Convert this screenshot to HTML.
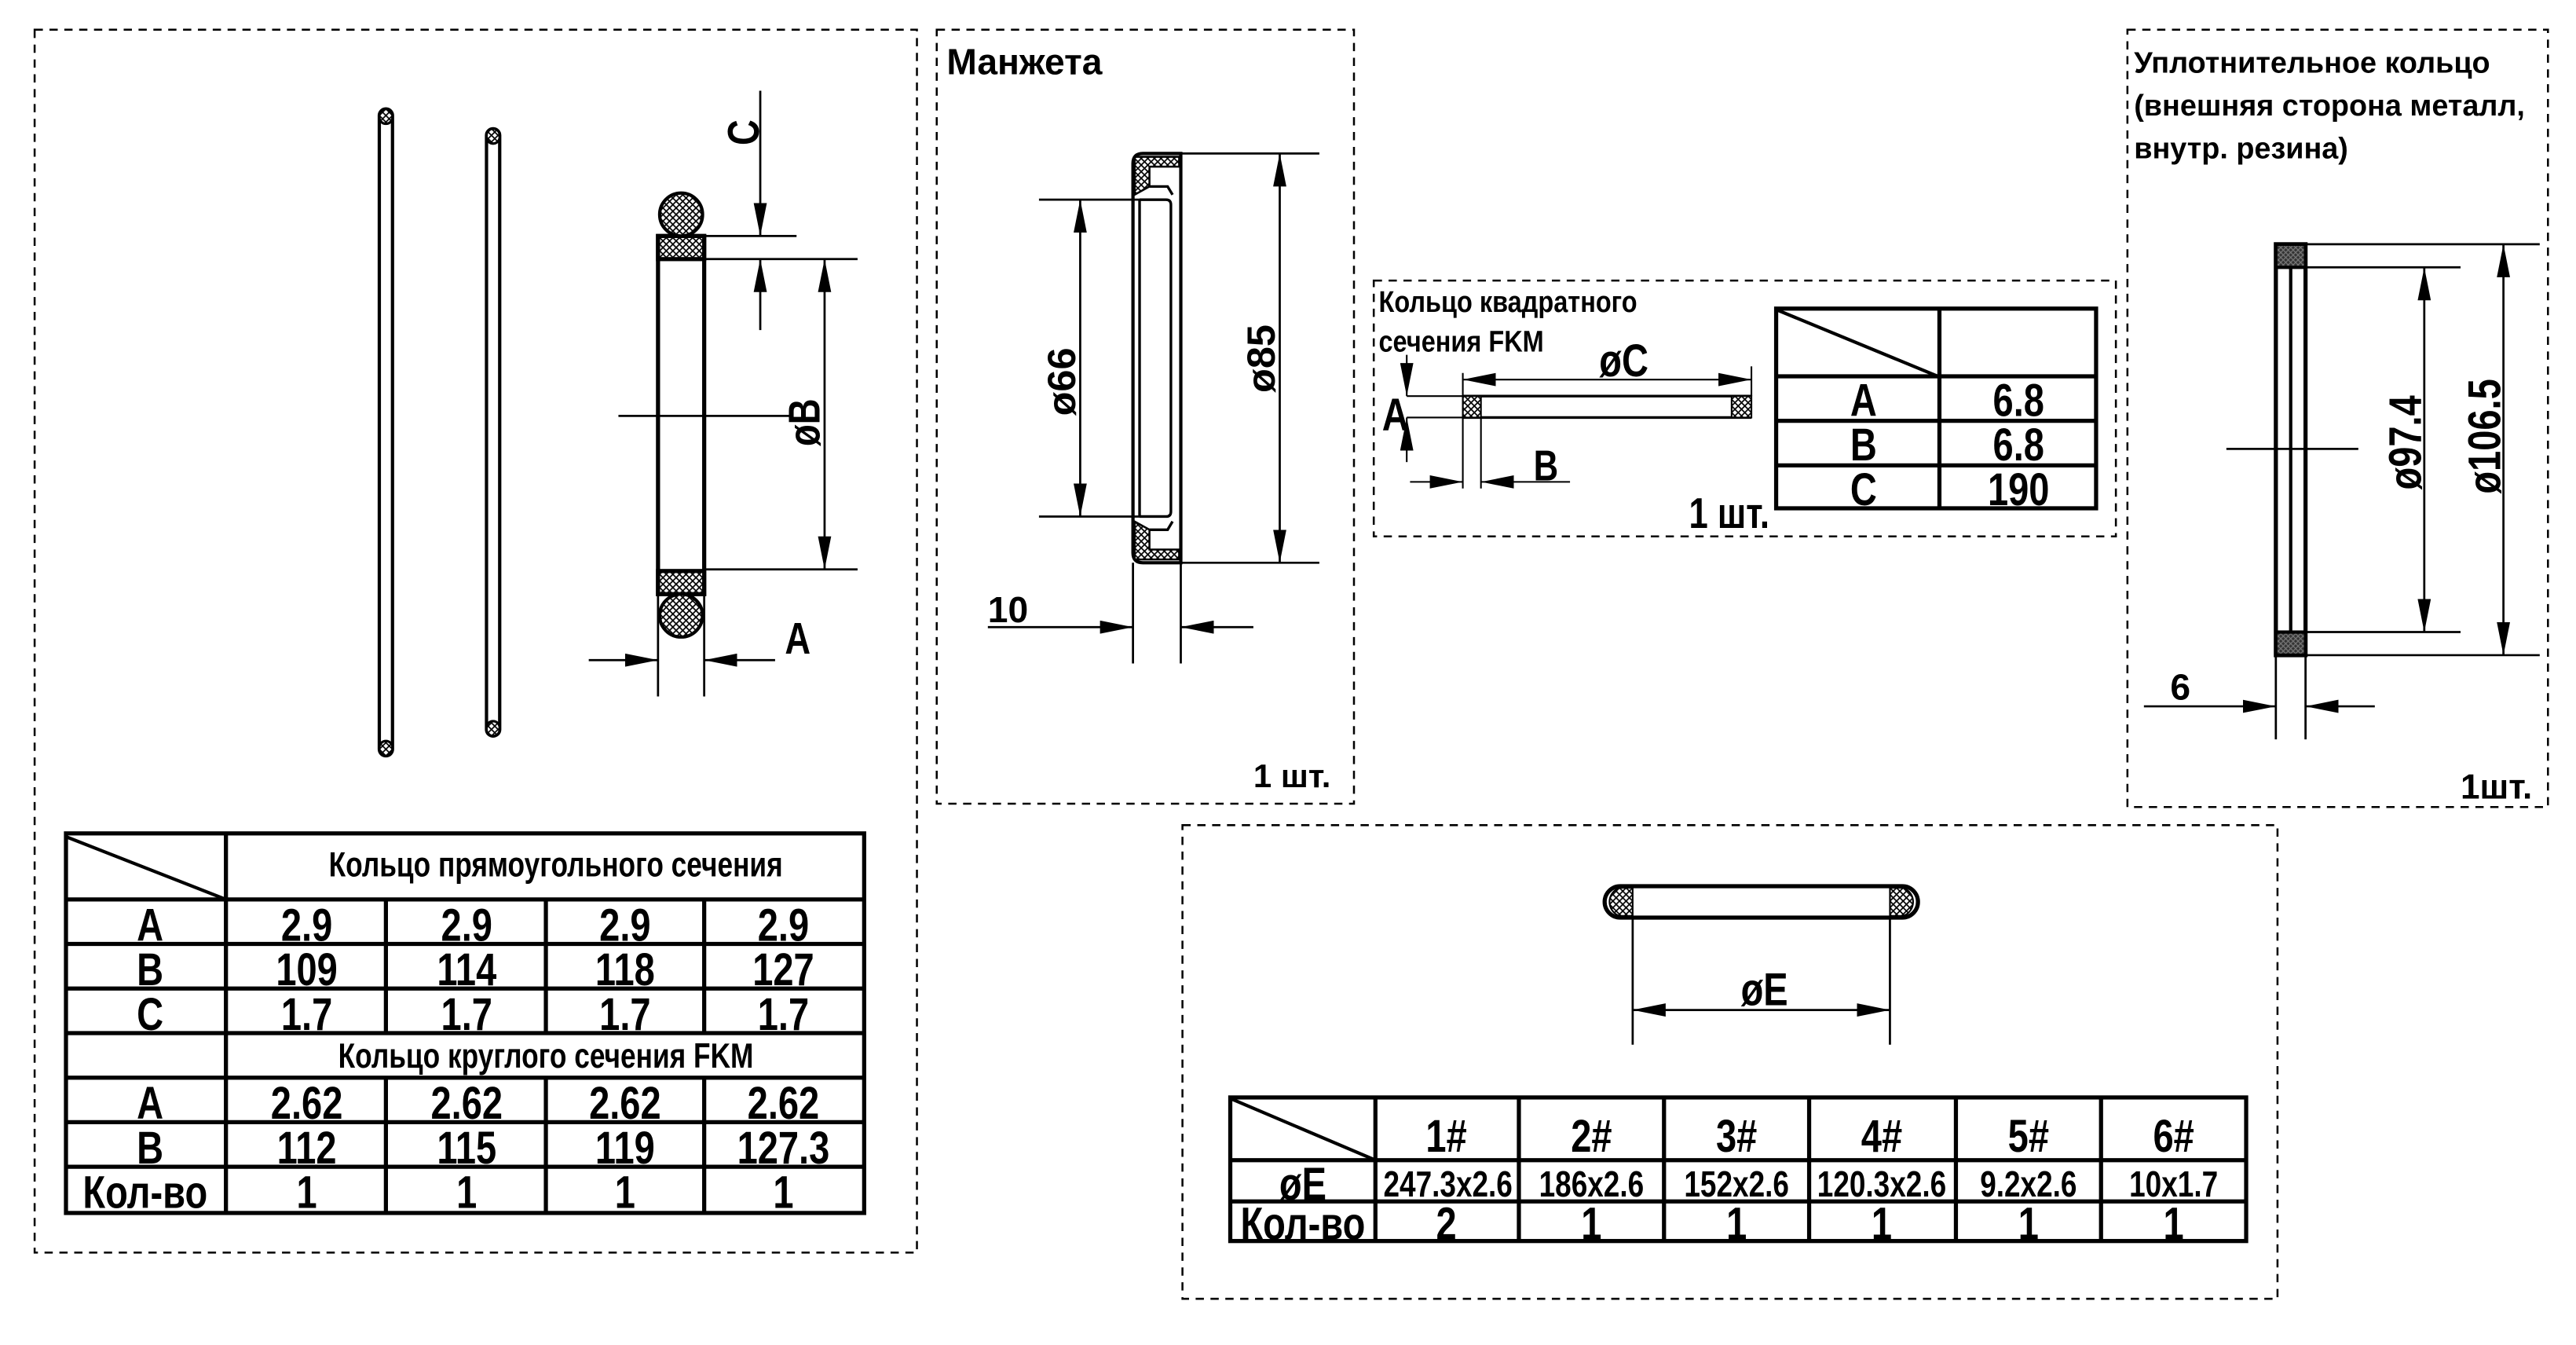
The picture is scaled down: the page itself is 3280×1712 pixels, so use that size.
<!DOCTYPE html>
<html><head><meta charset="utf-8">
<style>
html,body{margin:0;padding:0;background:#fff;}
svg{display:block;}
text{font-family:"Liberation Sans",sans-serif;font-weight:bold;fill:#000;}
.n{transform-box:fill-box;transform-origin:center;transform:scaleX(0.8);}
.nl{transform-box:fill-box;transform-origin:left center;transform:scaleX(0.86);}
</style></head><body>
<svg width="3280" height="1712" viewBox="0 0 1562 815" preserveAspectRatio="none" xmlns="http://www.w3.org/2000/svg">
<defs>
<pattern id="h" width="4" height="4" patternUnits="userSpaceOnUse">
<rect width="4" height="4" fill="#fff"/>
<path d="M0,0L4,4M4,0L0,4" stroke="#000" stroke-width="0.8"/>
</pattern>
<pattern id="hd" width="3" height="3" patternUnits="userSpaceOnUse">
<rect width="3" height="3" fill="#333"/>
<path d="M0,0L3,3M3,0L0,3" stroke="#777" stroke-width="0.6"/>
</pattern>
<marker id="a" viewBox="0 0 20 8" refX="20" refY="4" markerWidth="20" markerHeight="8" markerUnits="userSpaceOnUse" orient="auto-start-reverse">
<path d="M0,0L20,4L0,8z" fill="#000"/>
</marker>
</defs>
<g fill="none" stroke="#000" stroke-width="1.2" stroke-dasharray="5,4">
<rect x="21" y="18" width="535" height="741"/>
<rect x="568" y="18" width="253" height="469"/>
<rect x="833" y="170" width="450" height="155"/>
<rect x="1290" y="18" width="255" height="471"/>
<rect x="717" y="500" width="664" height="287"/>
</g>

<g stroke="#000" stroke-width="2">
<rect x="230" y="66" width="8" height="392" rx="4" fill="#fff"/>
<rect x="295" y="78" width="8" height="368" rx="4" fill="#fff"/>
</g>
<g fill="url(#h)" stroke="#000" stroke-width="1.5">
<rect x="230" y="66" width="8" height="9" rx="4"/>
<rect x="230" y="449" width="8" height="9" rx="4"/>
<rect x="295" y="78" width="8" height="9" rx="4"/>
<rect x="295" y="437" width="8" height="9" rx="4"/>
</g>
<rect x="399" y="143" width="28" height="217" fill="#fff" stroke="#000" stroke-width="2.5"/>
<rect x="399" y="143" width="28" height="14" fill="url(#h)" stroke="#000" stroke-width="2.5"/>
<rect x="399" y="346" width="28" height="14" fill="url(#h)" stroke="#000" stroke-width="2.5"/>
<circle cx="413" cy="130" r="13" fill="url(#h)" stroke="#000" stroke-width="2"/>
<circle cx="413" cy="373" r="13" fill="url(#h)" stroke="#000" stroke-width="2"/>
<g stroke="#000" stroke-width="1.3" fill="none">
<line x1="375" y1="252" x2="481" y2="252"/>
<line x1="427" y1="143" x2="483" y2="143"/>
<line x1="427" y1="157" x2="520" y2="157"/>
<line x1="427" y1="345" x2="520" y2="345"/>
<line x1="461" y1="55" x2="461" y2="143" marker-end="url(#a)"/>
<line x1="461" y1="200" x2="461" y2="157" marker-end="url(#a)"/>
<line x1="500" y1="157" x2="500" y2="345" marker-start="url(#a)" marker-end="url(#a)"/>
<line x1="399" y1="360" x2="399" y2="422"/>
<line x1="427" y1="360" x2="427" y2="422"/>
<line x1="357" y1="400" x2="399" y2="400" marker-end="url(#a)"/>
<line x1="470" y1="400" x2="427" y2="400" marker-end="url(#a)"/>
</g>
<g transform="translate(460,90) rotate(-90)"><text class="n" font-size="27">C</text></g>
<g transform="translate(497,274) rotate(-90)"><text class="n" font-size="27">øB</text></g>
<text class="n" x="474" y="396" font-size="27">A</text>

<g stroke="#000" stroke-width="2.5" fill="none">
<rect x="40" y="505" width="484" height="230"/>
<line x1="40" y1="545" x2="524" y2="545"/>
<line x1="40" y1="572" x2="524" y2="572"/>
<line x1="40" y1="599" x2="524" y2="599"/>
<line x1="40" y1="626" x2="524" y2="626"/>
<line x1="40" y1="653" x2="524" y2="653"/>
<line x1="40" y1="680" x2="524" y2="680"/>
<line x1="40" y1="707" x2="524" y2="707"/>
<line x1="137" y1="505" x2="137" y2="735"/>
<line x1="234" y1="545" x2="234" y2="626"/>
<line x1="331" y1="545" x2="331" y2="626"/>
<line x1="427" y1="545" x2="427" y2="626"/>
<line x1="234" y1="653" x2="234" y2="735"/>
<line x1="331" y1="653" x2="331" y2="735"/>
<line x1="427" y1="653" x2="427" y2="735"/>
<line x1="40" y1="507" x2="137" y2="545" stroke-width="2"/>
</g>
<g font-size="28" text-anchor="middle">
<text class="n" x="337" y="531" font-size="21">Кольцо прямоугольного сечения</text>
<text class="n" x="91" y="570">A</text><text class="n" x="186" y="570">2.9</text><text class="n" x="283" y="570">2.9</text><text class="n" x="379" y="570">2.9</text><text class="n" x="475" y="570">2.9</text>
<text class="n" x="91" y="597">B</text><text class="n" x="186" y="597">109</text><text class="n" x="283" y="597">114</text><text class="n" x="379" y="597">118</text><text class="n" x="475" y="597">127</text>
<text class="n" x="91" y="624">C</text><text class="n" x="186" y="624">1.7</text><text class="n" x="283" y="624">1.7</text><text class="n" x="379" y="624">1.7</text><text class="n" x="475" y="624">1.7</text>
<text class="n" x="331" y="647" font-size="21">Кольцо круглого сечения FKM</text>
<text class="n" x="91" y="678">A</text><text class="n" x="186" y="678">2.62</text><text class="n" x="283" y="678">2.62</text><text class="n" x="379" y="678">2.62</text><text class="n" x="475" y="678">2.62</text>
<text class="n" x="91" y="705">B</text><text class="n" x="186" y="705">112</text><text class="n" x="283" y="705">115</text><text class="n" x="379" y="705">119</text><text class="n" x="475" y="705">127.3</text>
<text class="n" x="88" y="732">Кол-во</text><text class="n" x="186" y="732">1</text><text class="n" x="283" y="732">1</text><text class="n" x="379" y="732">1</text><text class="n" x="475" y="732">1</text>
</g>

<text x="574" y="45" font-size="22">Манжета</text>
<path d="M687,99 Q687,93 693,93 L716,93 L716,341 L693,341 Q687,341 687,335 Z" fill="#fff" stroke="#000" stroke-width="2"/>
<path d="M688,95 L715,95 L715,101 L697,101 L697,113 L688,118 Z" fill="url(#h)" stroke="#000" stroke-width="1.2"/>
<path d="M688,339 L715,339 L715,333 L697,333 L697,321 L688,316 Z" fill="url(#h)" stroke="#000" stroke-width="1.2"/>
<path d="M691,121 L691,313 M691,121 L707,121 Q710,121 710,124 L710,310 Q710,313 707,313 L691,313 M697,113 L708,113 L711,118 M697,321 L708,321 L711,316" fill="none" stroke="#000" stroke-width="1.6"/>
<g stroke="#000" stroke-width="1.3" fill="none">
<line x1="716" y1="93" x2="800" y2="93"/>
<line x1="716" y1="341" x2="800" y2="341"/>
<line x1="630" y1="121" x2="691" y2="121"/>
<line x1="630" y1="313" x2="691" y2="313"/>
<line x1="776" y1="93" x2="776" y2="341" marker-start="url(#a)" marker-end="url(#a)"/>
<line x1="655" y1="121" x2="655" y2="313" marker-start="url(#a)" marker-end="url(#a)"/>
<line x1="687" y1="341" x2="687" y2="402"/>
<line x1="716" y1="341" x2="716" y2="402"/>
<line x1="599" y1="380" x2="687" y2="380" marker-end="url(#a)"/>
<line x1="760" y1="380" x2="716" y2="380" marker-end="url(#a)"/>
</g>
<g transform="translate(652,252) rotate(-90)"><text font-size="24">ø66</text></g>
<g transform="translate(773,238) rotate(-90)"><text font-size="24">ø85</text></g>
<text x="599" y="377" font-size="22">10</text>
<text x="760" y="477" font-size="20">1 шт.</text>

<text class="nl" x="836" y="189" font-size="18">Кольцо квадратного</text>
<text class="nl" x="836" y="213" font-size="18">сечения FKM</text>
<g stroke="#000" stroke-width="1.6" fill="none">
<line x1="887" y1="240" x2="1062" y2="240"/>
<line x1="887" y1="253" x2="1062" y2="253"/>
</g>
<rect x="887" y="240" width="11" height="13" fill="url(#h)" stroke="#000" stroke-width="1"/>
<rect x="1050" y="240" width="12" height="13" fill="url(#h)" stroke="#000" stroke-width="1"/>
<g stroke="#000" stroke-width="1" fill="none">
<line x1="887" y1="226" x2="887" y2="296"/>
<line x1="898" y1="253" x2="898" y2="296"/>
<line x1="1062" y1="222" x2="1062" y2="240"/>
<line x1="887" y1="230" x2="1062" y2="230" marker-start="url(#a)" marker-end="url(#a)"/>
<line x1="853" y1="240" x2="887" y2="240"/>
<line x1="853" y1="253" x2="887" y2="253"/>
<line x1="853" y1="215" x2="853" y2="240" marker-end="url(#a)"/>
<line x1="853" y1="280" x2="853" y2="253" marker-end="url(#a)"/>
<line x1="855" y1="292" x2="887" y2="292" marker-end="url(#a)"/>
<line x1="952" y1="292" x2="898" y2="292" marker-end="url(#a)"/>
</g>
<text class="n" x="966" y="228" font-size="28">øC</text>
<text class="n" x="836" y="261" font-size="28">A</text>
<text class="n" x="928" y="291" font-size="26">B</text>
<text class="n" x="1018" y="320" font-size="26">1 шт.</text>
<g stroke="#000" stroke-width="2.5" fill="none">
<rect x="1077" y="187" width="194" height="121"/>
<line x1="1077" y1="228" x2="1271" y2="228"/>
<line x1="1077" y1="255" x2="1271" y2="255"/>
<line x1="1077" y1="282" x2="1271" y2="282"/>
<line x1="1176" y1="187" x2="1176" y2="308"/>
<line x1="1078" y1="188" x2="1175" y2="228" stroke-width="2"/>
</g>
<g font-size="28" text-anchor="middle">
<text class="n" x="1130" y="252">A</text><text class="n" x="1224" y="252">6.8</text>
<text class="n" x="1130" y="279">B</text><text class="n" x="1224" y="279">6.8</text>
<text class="n" x="1130" y="306">C</text><text class="n" x="1224" y="306">190</text>
</g>

<text x="1294" y="44" font-size="18">Уплотнительное кольцо</text>
<text x="1294" y="70" font-size="18">(внешняя сторона металл,</text>
<text x="1294" y="96" font-size="18">внутр. резина)</text>
<rect x="1380" y="148" width="18" height="249" fill="#fff" stroke="#000" stroke-width="2.5"/>
<line x1="1389" y1="162" x2="1389" y2="383" stroke="#000" stroke-width="2"/>
<rect x="1380" y="148" width="18" height="14" fill="url(#hd)" stroke="#000" stroke-width="2"/>
<rect x="1380" y="383" width="18" height="14" fill="url(#hd)" stroke="#000" stroke-width="2"/>
<g stroke="#000" stroke-width="1.3" fill="none">
<line x1="1350" y1="272" x2="1430" y2="272"/>
<line x1="1398" y1="148" x2="1540" y2="148"/>
<line x1="1398" y1="397" x2="1540" y2="397"/>
<line x1="1398" y1="162" x2="1492" y2="162"/>
<line x1="1398" y1="383" x2="1492" y2="383"/>
<line x1="1518" y1="148" x2="1518" y2="397" marker-start="url(#a)" marker-end="url(#a)"/>
<line x1="1470" y1="162" x2="1470" y2="383" marker-start="url(#a)" marker-end="url(#a)"/>
<line x1="1380" y1="397" x2="1380" y2="448"/>
<line x1="1398" y1="397" x2="1398" y2="448"/>
<line x1="1300" y1="428" x2="1380" y2="428" marker-end="url(#a)"/>
<line x1="1440" y1="428" x2="1398" y2="428" marker-end="url(#a)"/>
</g>
<g transform="translate(1468,304) rotate(-90)"><text class="n" font-size="28">ø97.4</text></g>
<g transform="translate(1516,308) rotate(-90)"><text class="n" font-size="28">ø106.5</text></g>
<text x="1316" y="424" font-size="22">6</text>
<text x="1492" y="484" font-size="21">1шт.</text>

<rect x="973" y="537" width="190" height="19" rx="9.5" fill="#fff" stroke="#000" stroke-width="2.5"/>
<path d="M990,538 L982,538 A9,9 0 0 0 982,555 L990,555 Z" fill="url(#h)" stroke="#000" stroke-width="1"/>
<path d="M1146,538 L1154,538 A9,9 0 0 1 1154,555 L1146,555 Z" fill="url(#h)" stroke="#000" stroke-width="1"/>
<g stroke="#000" stroke-width="1.3" fill="none">
<line x1="990" y1="556" x2="990" y2="633"/>
<line x1="1146" y1="556" x2="1146" y2="633"/>
<line x1="990" y1="612" x2="1146" y2="612" marker-start="url(#a)" marker-end="url(#a)"/>
</g>
<text class="n" x="1052" y="609" font-size="28">øE</text>
<g stroke="#000" stroke-width="2.5" fill="none">
<rect x="746" y="665" width="616" height="87"/>
<line x1="746" y1="703" x2="1362" y2="703"/>
<line x1="746" y1="728" x2="1362" y2="728"/>
<line x1="834" y1="665" x2="834" y2="752"/>
<line x1="921" y1="665" x2="921" y2="752"/>
<line x1="1009" y1="665" x2="1009" y2="752"/>
<line x1="1097" y1="665" x2="1097" y2="752"/>
<line x1="1186" y1="665" x2="1186" y2="752"/>
<line x1="1274" y1="665" x2="1274" y2="752"/>
<line x1="747" y1="666" x2="834" y2="703" stroke-width="2"/>
</g>
<g font-size="28" text-anchor="middle">
<text class="n" x="877" y="698">1#</text><text class="n" x="965" y="698">2#</text><text class="n" x="1053" y="698">3#</text>
<text class="n" x="1141" y="698">4#</text><text class="n" x="1230" y="698">5#</text><text class="n" x="1318" y="698">6#</text>
<text class="n" x="790" y="727">øE</text>
<text class="n" x="878" y="725" font-size="22">247.3x2.6</text><text class="n" x="965" y="725" font-size="22">186x2.6</text>
<text class="n" x="1053" y="725" font-size="22">152x2.6</text><text class="n" x="1141" y="725" font-size="22">120.3x2.6</text>
<text class="n" x="1230" y="725" font-size="22">9.2x2.6</text><text class="n" x="1318" y="725" font-size="22">10x1.7</text>
<text class="n" x="790" y="751">Кол-во</text>
<text class="n" x="877" y="751">2</text><text class="n" x="965" y="751">1</text><text class="n" x="1053" y="751">1</text>
<text class="n" x="1141" y="751">1</text><text class="n" x="1230" y="751">1</text><text class="n" x="1318" y="751">1</text>
</g>
</svg>
</body></html>
